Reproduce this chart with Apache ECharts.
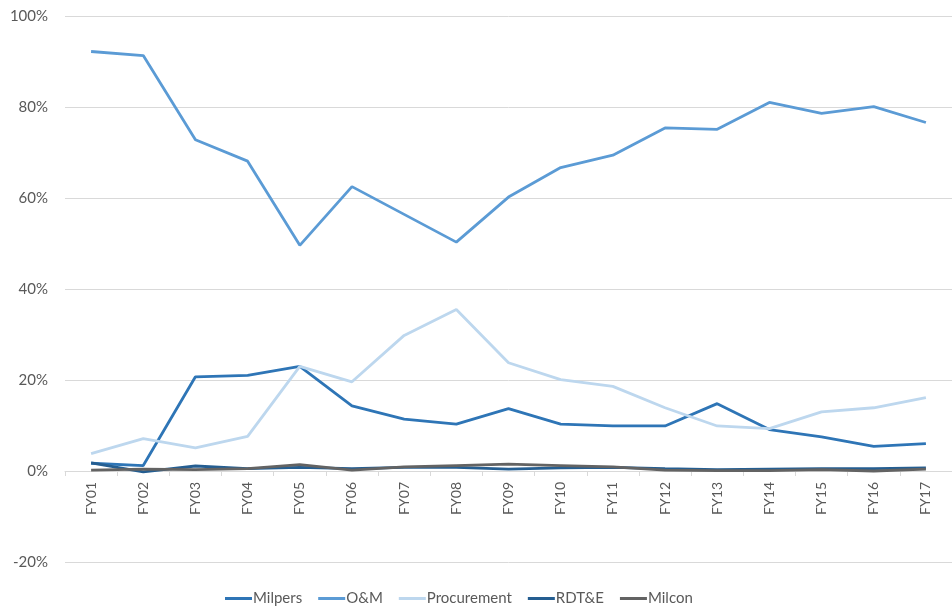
<!DOCTYPE html>
<html>
<head>
<meta charset="utf-8">
<script src="https://cdn.jsdelivr.net/npm/echarts@6/dist/echarts.min.js"></script>
<style>
  html, body { margin: 0; padding: 0; background: #fff; }
  #chart { width: 952px; height: 608px; }
</style>
</head>
<body>
<div id="chart"></div>
<script>
// fiscal years
var years = ["FY01", "FY02", "FY03", "FY04", "FY05", "FY06", "FY07", "FY08", "FY09",
  "FY10", "FY11", "FY12", "FY13", "FY14", "FY15", "FY16", "FY17"];

// share of spending, percent
var milpers = [1.7, 1.2, 20.7, 21.0, 23.0, 14.3, 11.4, 10.3, 13.7, 10.3, 9.9, 9.9, 14.8, 9.1, 7.5, 5.4, 6.0];
var oandm = [92.2, 91.3, 72.8, 68.1, 49.6, 62.5, 56.4, 50.3, 60.2, 66.7, 69.4, 75.4, 75.1, 81.0, 78.6, 80.1, 76.6];
var procurement = [3.8, 7.1, 5.1, 7.6, 23.0, 19.6, 29.8, 35.5, 23.8, 20.1, 18.6, 13.9, 9.9, 9.3, 13.0, 13.9, 16.1];
var rdte = [1.8, -0.2, 1.1, 0.5, 0.8, 0.5, 0.8, 0.8, 0.4, 0.7, 0.8, 0.5, 0.3, 0.4, 0.5, 0.5, 0.7];
var milcon = [0.2, 0.4, 0.3, 0.5, 1.4, 0.2, 0.9, 1.2, 1.5, 1.2, 0.9, 0.2, 0.1, 0.1, 0.3, 0.0, 0.4];

var yTicks = { min: -20, max: 100, interval: 20 };

var font = "Lato, 'Open Sans', sans-serif";

function line(name, data, color) {
  return {
    name: name,
    type: "line",
    data: data,
    symbol: "none",
    lineStyle: { width: 2.8, color: color },
    itemStyle: { color: color }
  };
}

var gridTop = 16, gridBottom = 46, height = 608;
// the category axis sits on the 0% line, not the bottom of the plot
var plotH = height - gridTop - gridBottom;
var zeroOffset = -Math.round(plotH * (0 - yTicks.min) / (yTicks.max - yTicks.min));

var myChart = echarts.init(document.getElementById("chart"));
myChart.setOption({
  animation: false,
  grid: { left: 65, right: 0, top: gridTop, bottom: gridBottom },
  legend: {
    top: 586,
    left: 220,
    icon: "rect",
    itemWidth: 27,
    itemHeight: 3,
    itemGap: 16,
    textStyle: { color: "#595959", fontSize: 15, fontFamily: font, padding: [0, 0, 0, -4] },
    data: ["Milpers", "O&M", "Procurement", "RDT&E", "Milcon"]
  },
  xAxis: {
    type: "category",
    data: years,
    boundaryGap: true,
    offset: zeroOffset,
    axisLine: { onZero: false, lineStyle: { color: "#D9D9D9", width: 1 } },
    axisTick: { show: true, length: 5, lineStyle: { color: "#D9D9D9" } },
    axisLabel: { rotate: 90, color: "#595959", fontSize: 14, fontFamily: font, margin: 11 }
  },
  yAxis: {
    type: "value",
    min: yTicks.min,
    max: yTicks.max,
    interval: yTicks.interval,
    axisLine: { show: false },
    axisTick: { show: false },
    splitLine: { lineStyle: { color: "#D9D9D9", width: 1 } },
    axisLabel: { formatter: "{value}%", color: "#595959", fontSize: 15, fontFamily: font, margin: 17 }
  },
  series: [
    line("Milpers", milpers, "#2E75B6"),
    line("O&M", oandm, "#5B9BD5"),
    line("Procurement", procurement, "#BDD7EE"),
    line("RDT&E", rdte, "#255E91"),
    line("Milcon", milcon, "#636363")
  ]
});
</script>
</body>
</html>
